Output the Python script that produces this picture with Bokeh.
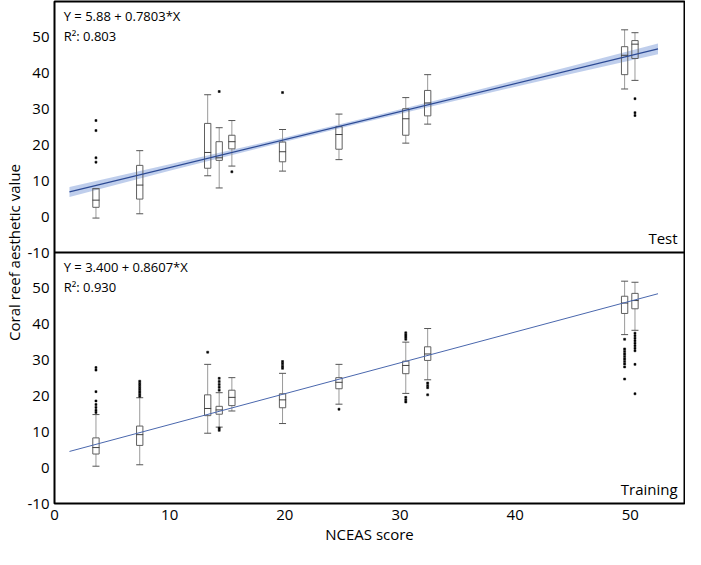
from bokeh.plotting import figure
from bokeh.models import Range1d, FixedTicker, Label, Span
from bokeh.embed import file_html
from bokeh.resources import INLINE

FONT = "Open Sans"

# NCEAS score groups (x positions of the box plots)
scores = [3.6, 7.4, 13.3, 14.3, 15.4, 19.8, 24.7, 30.5, 32.4, 49.5, 50.4]

# ---- Test panel ----
test_whi = [7.8, 18.4, 34.0, 24.8, 26.8, 24.3, 28.6, 33.2, 39.6, 52.1, 51.3]
test_q3 = [7.8, 14.3, 26.0, 20.9, 22.7, 20.8, 25.1, 30.1, 35.2, 47.4, 49.1]
test_med = [4.6, 8.8, 17.9, 16.4, 20.9, 18.1, 22.9, 27.3, 31.7, 45.0, 48.1]
test_q1 = [2.6, 4.9, 13.5, 15.7, 18.9, 15.3, 18.8, 22.7, 28.1, 39.6, 44.1]
test_wlo = [-0.4, 0.8, 11.4, 8.0, 14.1, 12.7, 15.9, 20.5, 25.8, 35.6, 38.0]
test_out_x = [3.6, 3.6, 3.6, 3.6, 14.3, 15.4, 19.8, 50.4, 50.4, 50.4]
test_out_y = [26.8, 24.0, 16.4, 15.2, 34.9, 12.5, 34.6, 32.9, 29.0, 28.2]
test_intercept, test_slope = 5.88, 0.7803
test_eq = "Y = 5.88 + 0.7803*X"
test_r2 = "R\u00b2: 0.803"
# confidence band around the fitted line (estimated half widths)
test_ci_x = [1.3, 10.0, 20.0, 27.0, 35.0, 45.0, 52.4]
test_ci_half = [1.4, 0.9, 0.6, 0.55, 0.7, 1.1, 1.5]

# ---- Training panel ----
train_whi = [14.8, 19.5, 28.8, 20.9, 25.1, 26.3, 28.8, 35.0, 38.8, 52.0, 51.7]
train_q3 = [8.3, 11.6, 20.3, 17.1, 21.6, 20.6, 25.1, 29.7, 33.7, 47.8, 48.6]
train_med = [5.6, 9.2, 16.5, 16.1, 19.6, 18.9, 23.8, 28.5, 31.7, 45.9, 46.6]
train_q1 = [3.8, 6.2, 14.5, 14.9, 17.3, 16.7, 22.0, 26.2, 29.9, 43.0, 44.3]
train_wlo = [0.4, 0.8, 9.6, 11.3, 15.8, 12.3, 17.7, 20.7, 24.5, 37.1, 38.3]
train_out_x = ([3.6] * 8 + [7.4] * 8 + [13.3] + [14.3] * 7 + [19.8] * 4 + [24.7]
               + [30.5] * 7 + [32.4] * 4 + [49.5] * 10 + [50.4] * 10)
train_out_y = ([27.9, 27.2, 21.2, 18.6, 17.6, 16.8, 16.0, 15.4]
               + [24.1, 23.5, 22.9, 22.3, 21.7, 21.1, 20.5, 19.9]
               + [32.2]
               + [24.9, 24.0, 23.2, 22.4, 21.6, 11.0, 10.4]
               + [29.6, 29.0, 28.3, 27.7]
               + [16.3]
               + [37.6, 37.0, 36.4, 35.8, 19.6, 18.9, 18.3]
               + [23.6, 22.9, 22.3, 20.3]
               + [35.8, 33.1, 32.4, 31.7, 31.0, 30.3, 29.6, 28.9, 28.1, 24.7]
               + [37.5, 36.8, 36.1, 35.4, 34.7, 34.0, 33.3, 32.6, 28.8, 20.6])
train_intercept, train_slope = 3.400, 0.8607
train_eq = "Y = 3.400 + 0.8607*X"
train_r2 = "R\u00b2: 0.930"

fit_x = [1.3, 52.4]
x_ticks = [0, 10, 20, 30, 40, 50]
y_ticks = [-10, 0, 10, 20, 30, 40, 50]
y_tick_labels = ["-10", "0", "10", "20", "30", "40", "50"]

Y_LOW, Y_HIGH = -10, 60          # value range of each panel
SPAN = Y_HIGH - Y_LOW           # 70

# One frame holding both panels: the Training panel uses the default range
# (its -10..60 fills the lower half), the Test panel an extra range whose
# -10..60 fills the upper half.
p = figure(width=685, height=549, x_range=Range1d(0, 54.7),
           y_range=Range1d(Y_LOW, Y_HIGH + SPAN), output_backend="svg",
           toolbar_location=None, min_border_left=48, min_border_right=1,
           min_border_top=1, min_border_bottom=46)
p.extra_y_ranges = {"test": Range1d(Y_LOW - SPAN, Y_HIGH)}
p.grid.visible = False
p.outline_line_color = "black"
p.outline_line_width = 2
p.background_fill_color = "white"
p.border_fill_color = "white"

# left axis: ticks of both panels, the upper ones labelled with Test values
ticks = y_ticks + [t + SPAN for t in y_ticks]
overrides = {}
for t, lab in zip(y_ticks, y_tick_labels):
    overrides[t] = lab
    overrides[t + SPAN] = lab
p.yaxis.ticker = FixedTicker(ticks=ticks)
p.yaxis.major_label_overrides = overrides
p.yaxis.axis_line_color = None
p.yaxis.major_tick_in = 0
p.yaxis.major_tick_out = 0
p.yaxis.minor_tick_line_color = None
p.yaxis.major_label_text_font = FONT
p.yaxis.major_label_text_font_size = "15px"
p.yaxis.major_label_text_color = "black"
p.yaxis.major_label_standoff = 5
p.yaxis.axis_label = "Coral reef aesthetic value"
p.yaxis.axis_label_text_font = FONT
p.yaxis.axis_label_text_font_size = "15px"
p.yaxis.axis_label_text_font_style = "normal"
p.yaxis.axis_label_text_color = "black"
p.yaxis.axis_label_standoff = 1

p.xaxis.ticker = FixedTicker(ticks=x_ticks)
p.xaxis.axis_line_color = None
p.xaxis.major_tick_in = 0
p.xaxis.major_tick_out = 0
p.xaxis.minor_tick_line_color = None
p.xaxis.major_label_text_font = FONT
p.xaxis.major_label_text_font_size = "15px"
p.xaxis.major_label_text_color = "black"
p.xaxis.major_label_standoff = 6
p.xaxis.axis_label = "NCEAS score"
p.xaxis.axis_label_text_font = FONT
p.xaxis.axis_label_text_font_size = "15px"
p.xaxis.axis_label_text_font_style = "normal"
p.xaxis.axis_label_text_color = "black"
p.xaxis.axis_label_standoff = 1

# divider between the panels
p.add_layout(Span(location=Y_HIGH, dimension="width", line_color="black",
                  line_width=2))


def draw_panel(rng, name, eq, r2, whi, q3, med, q1, wlo, ox, oy, a, b,
               line_color, line_width, ci=None):
    kw = {} if rng is None else {"y_range_name": rng}
    if ci is not None:
        cx, ch = ci
        lower = [a + b * x - h for x, h in zip(cx, ch)]
        upper = [a + b * x + h for x, h in zip(cx, ch)]
        p.varea(x=cx, y1=lower, y2=upper, fill_color="#a9bde6", fill_alpha=0.75, **kw)
    # whiskers and caps
    p.segment(x0=scores, y0=q3, x1=scores, y1=whi, line_color="#9a9a9a",
              line_width=1, **kw)
    p.segment(x0=scores, y0=wlo, x1=scores, y1=q1, line_color="#9a9a9a",
              line_width=1, **kw)
    p.scatter(x=scores, y=whi, marker="dash", size=7, line_color="#555555",
              line_width=1, **kw)
    p.scatter(x=scores, y=wlo, marker="dash", size=7, line_color="#555555",
              line_width=1, **kw)
    # boxes and medians
    p.vbar(x=scores, width=0.55, bottom=q1, top=q3, fill_color="white",
           fill_alpha=0.0, line_color="#606060", line_width=1, **kw)
    p.scatter(x=scores, y=med, marker="dash", size=7, line_color="#404040",
              line_width=1, **kw)
    # outliers
    p.scatter(x=ox, y=oy, marker="square", size=2, fill_color="black",
              line_color="black", line_width=0.5, **kw)
    # regression line
    fy = [a + b * x for x in fit_x]
    p.line(x=fit_x, y=fy, line_color=line_color, line_width=line_width, **kw)

    p.add_layout(Label(x=0.8, y=56.0, text=eq, text_font=FONT, text_font_size="13px",
                       text_baseline="middle", text_color="black", **kw))
    p.add_layout(Label(x=0.8, y=50.5, text=r2, text_font=FONT, text_font_size="13px",
                       text_baseline="middle", text_color="black", **kw))
    p.add_layout(Label(x=54.1, y=-6.0, text=name, text_font=FONT,
                       text_font_size="15px", text_baseline="middle",
                       text_align="right", text_color="black", **kw))


draw_panel("test", "Test", test_eq, test_r2, test_whi, test_q3, test_med, test_q1,
           test_wlo, test_out_x, test_out_y, test_intercept, test_slope,
           "#2c4a94", 1.3, ci=(test_ci_x, test_ci_half))
draw_panel(None, "Training", train_eq, train_r2, train_whi, train_q3, train_med,
           train_q1, train_wlo, train_out_x, train_out_y, train_intercept,
           train_slope, "#4a67ad", 1.0)

open("out.html", "w").write(file_html(p, INLINE))
